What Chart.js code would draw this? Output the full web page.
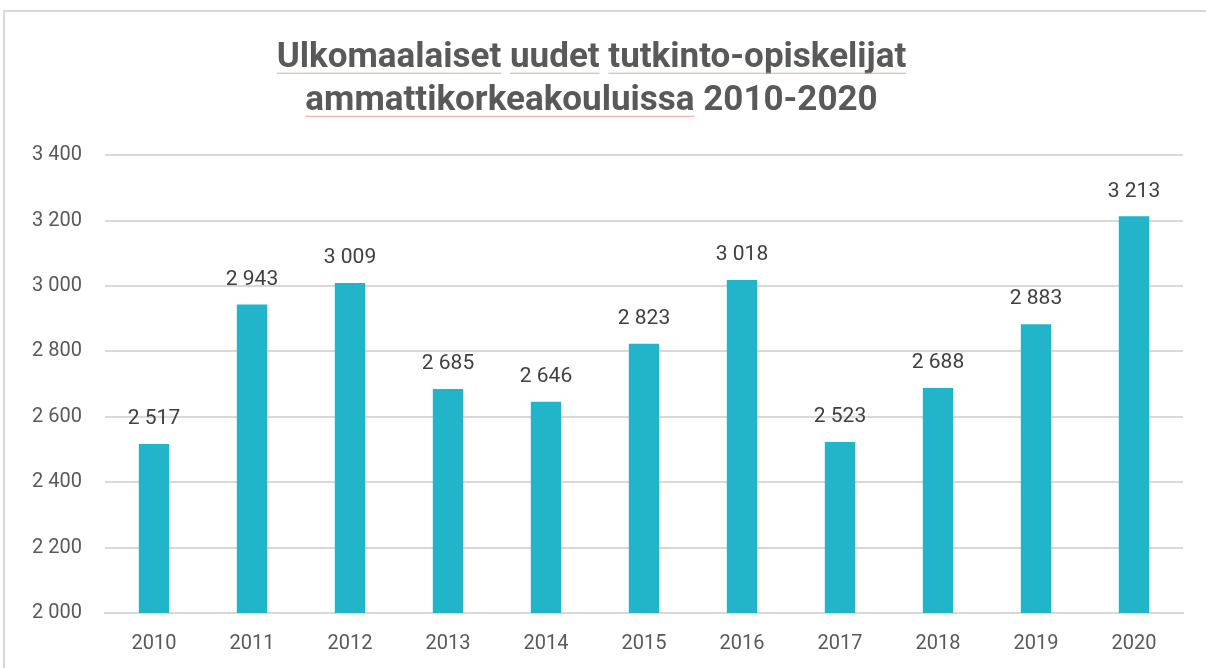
<!DOCTYPE html>
<html>
<head>
<meta charset="utf-8">
<script src="https://cdn.jsdelivr.net/npm/chart.js@4.4.1/dist/chart.umd.min.js"></script>
<style>
  html, body { margin: 0; padding: 0; background: #fff; }
  #wrap { position: relative; width: 1206px; height: 668px; overflow: hidden; }
  #frame { position: absolute; left: 3px; top: 10px; width: 1300px; height: 800px;
           border-left: 2px solid #d9d9d9; border-top: 2px solid #d9d9d9; }
  canvas { position: absolute; left: 0; top: 0; }
</style>
</head>
<body>
<div id="wrap">
  <div id="frame"></div>
  <canvas id="chart" width="1206" height="668"></canvas>
</div>
<script>
var years = ['2010', '2011', '2012', '2013', '2014', '2015', '2016', '2017', '2018', '2019', '2020'];
var students = [2517, 2943, 3009, 2685, 2646, 2823, 3018, 2523, 2688, 2883, 3213];
var titleLines = ['Ulkomaalaiset uudet tutkinto-opiskelijat', 'ammattikorkeakouluissa 2010-2020'];
// words with the spell-check underline, per title line
var underlined = [['Ulkomaalaiset', 'uudet', 'tutkinto-opiskelijat'], ['ammattikorkeakouluissa']];

var titleFont = { family: 'Roboto', size: 35, weight: 'bold', lineHeight: 1.23 };
var titlePad = { top: 37, bottom: 32 };

function fiNum(v) {
    return String(v).replace(/\B(?=(\d{3})+(?!\d))/g, ' ');
}

// value labels above the bars
var valueLabels = {
    id: 'valueLabels',
    afterDatasetsDraw: function(chart) {
        var ctx = chart.ctx;
        var meta = chart.getDatasetMeta(0);
        ctx.save();
        ctx.font = '21px Roboto';
        ctx.fillStyle = '#404040';
        ctx.textAlign = 'center';
        ctx.textBaseline = 'middle';
        meta.data.forEach(function(bar, i) {
            ctx.fillText(fiNum(students[i]), bar.x, bar.y - 25);
        });
        ctx.restore();
    }
};

// thin pink underline under some title words
var titleUnderline = {
    id: 'titleUnderline',
    afterDraw: function(chart) {
        var ctx = chart.ctx;
        var tb = chart.titleBlock;
        var lh = titleFont.size * titleFont.lineHeight;
        var cx = tb.left + tb.width / 2;
        ctx.save();
        ctx.font = 'bold ' + titleFont.size + 'px Roboto';
        ctx.strokeStyle = '#f0a0a0';
        ctx.lineWidth = 1;
        titleLines.forEach(function(line, li) {
            var full = ctx.measureText(line).width;
            var x0 = cx - full / 2;
            var y = tb.top + titlePad.top + lh * (li + 0.5) + titleFont.size * 0.42;
            underlined[li].forEach(function(w) {
                var idx = line.indexOf(w);
                var xs = x0 + ctx.measureText(line.slice(0, idx)).width;
                var ww = ctx.measureText(w).width;
                ctx.beginPath();
                ctx.moveTo(xs, y);
                ctx.lineTo(xs + ww, y);
                ctx.stroke();
            });
        });
        ctx.restore();
    }
};

new Chart(document.getElementById('chart'), {
    type: 'bar',
    data: {
        labels: years,
        datasets: [{
            data: students,
            backgroundColor: '#22b5ca',
            barPercentage: 0.62,
            categoryPercentage: 0.5
        }]
    },
    options: {
        responsive: false,
        animation: false,
        layout: { padding: { left: 0, right: 23, top: 0, bottom: 6 } },
        plugins: {
            legend: { display: false },
            tooltip: { enabled: false },
            title: {
                display: true,
                text: titleLines,
                color: '#595959',
                font: titleFont,
                padding: titlePad
            }
        },
        scales: {
            x: {
                grid: { display: false, drawTicks: false },
                border: { color: '#d9d9d9', width: 2 },
                ticks: { color: '#595959', font: { family: 'Roboto', size: 20 }, padding: 19 },
                afterFit: function(s) { s.height = 49; }
            },
            y: {
                min: 2000,
                max: 3400,
                ticks: {
                    stepSize: 200,
                    color: '#595959',
                    font: { family: 'Roboto', size: 20 },
                    padding: 23,
                    callback: function(v) { return fiNum(v); }
                },
                grid: { color: '#d9d9d9', lineWidth: 2, drawTicks: false },
                border: { display: false },
                afterFit: function(s) { s.width = 105; }
            }
        }
    },
    plugins: [valueLabels, titleUnderline]
});
</script>
</body>
</html>
